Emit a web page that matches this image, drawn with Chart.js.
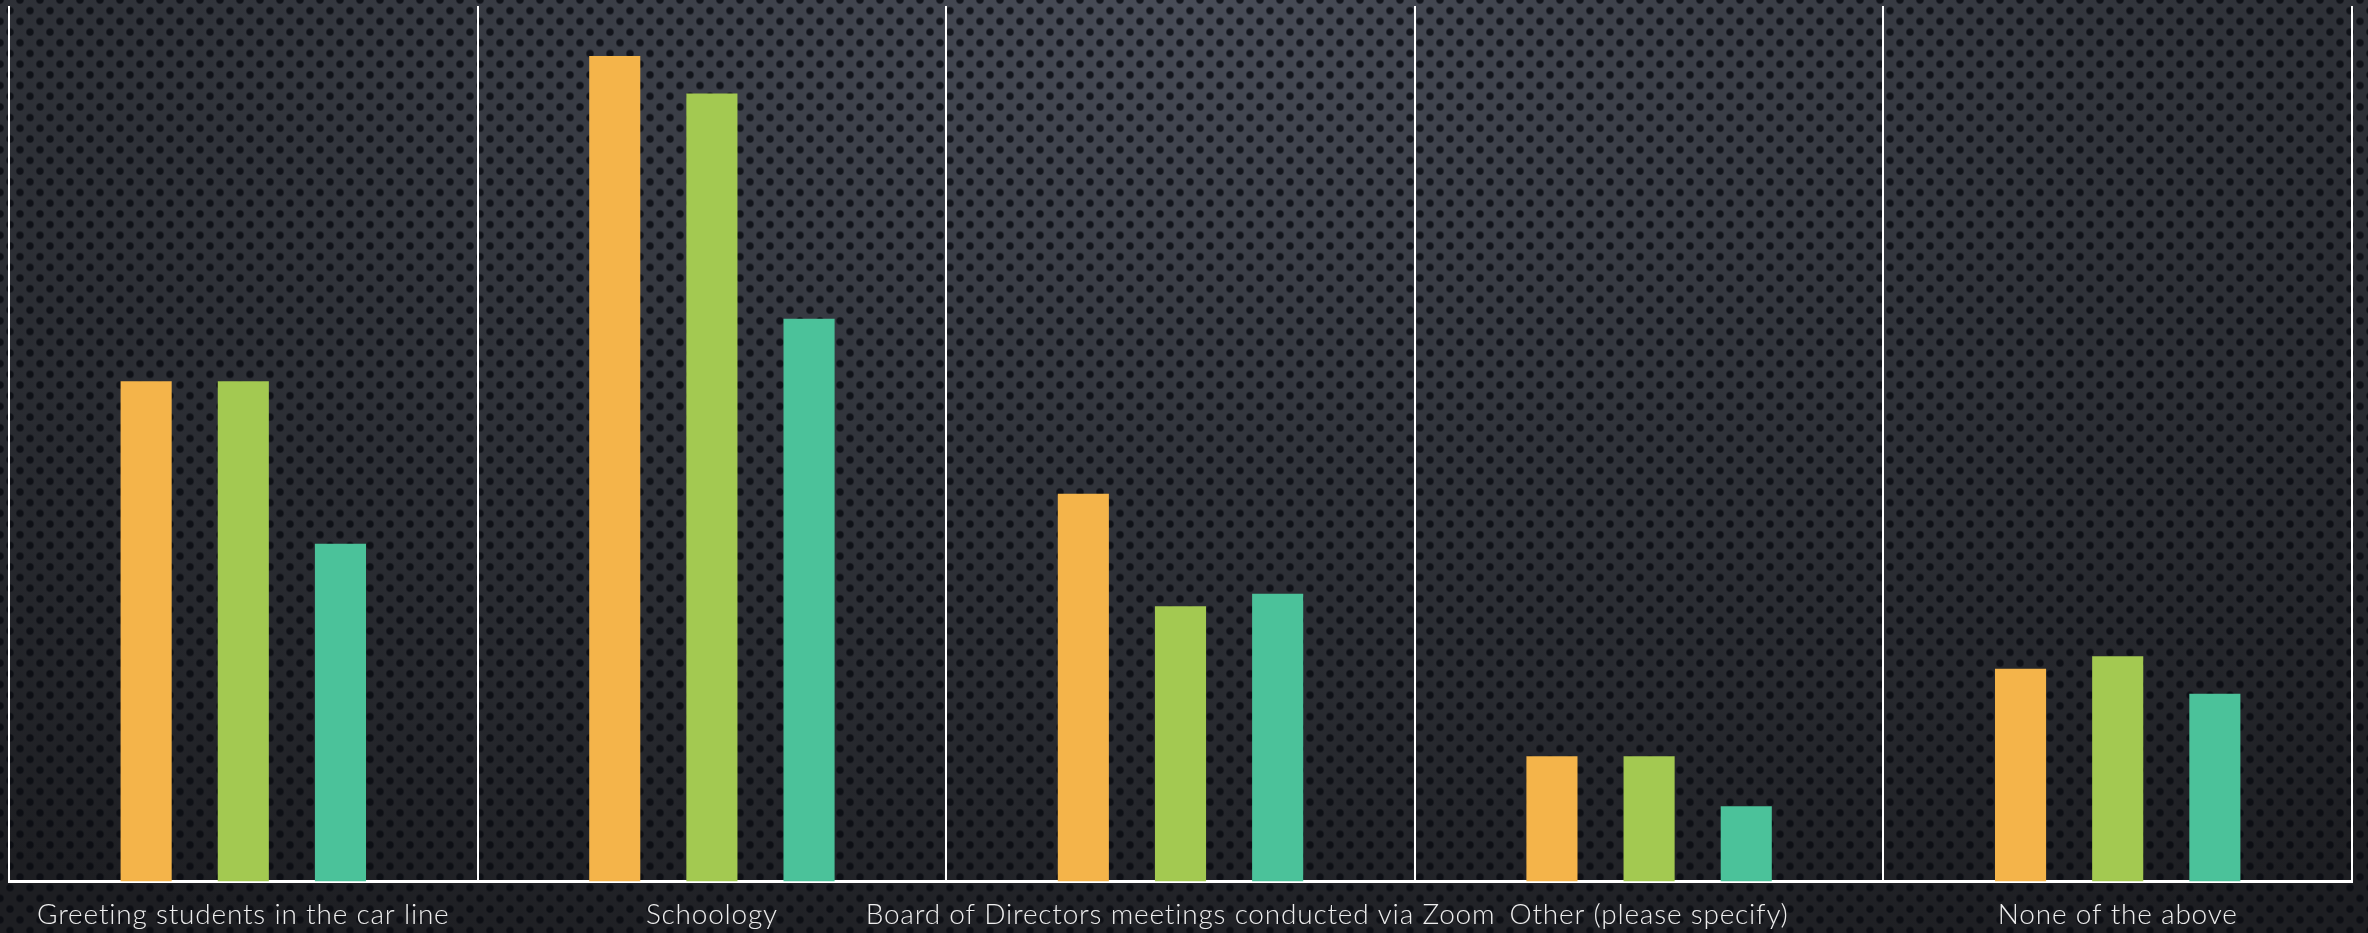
<!DOCTYPE html>
<html>
<head>
<meta charset="utf-8">
<script src="https://cdn.jsdelivr.net/npm/chart.js@4/dist/chart.umd.min.js"></script>
<style>
  html, body { margin: 0; padding: 0; }
  body {
    width: 2368px;
    height: 933px;
    overflow: hidden;
    background-color: #26282e;
    background-image:
      radial-gradient(circle, rgba(8, 10, 16, 0.8) 3px, rgba(8, 10, 16, 0) 4.5px),
      radial-gradient(circle, rgba(8, 10, 16, 0.8) 3px, rgba(8, 10, 16, 0) 4.5px),
      radial-gradient(ellipse 90% 110% at 50% 0%, #484c57 0%, #31343b 45%, #1d1e22 100%);
    background-size: 20px 21.4px, 20px 21.4px, 100% 100%;
    background-position: 0 0, 10px 10.7px, 0 0;
  }
  #wrap { position: relative; width: 2368px; height: 933px; }
</style>
</head>
<body>
<div id="wrap"><canvas id="grafico"></canvas></div>
<script>
// categorias e valores (%)
const categorias = [
  'Greeting students in the car line',
  'Schoology',
  'Board of Directors meetings conducted via Zoom',
  'Other (please specify)',
  'None of the above'
];
const serie1 = [40, 66, 31, 10, 17];
const serie2 = [40, 63, 22, 10, 18];
const serie3 = [27, 45, 23, 6, 15];
const nomesSeries = ['Series 1', 'Series 2', 'Series 3'];
const yMax = 70;

const cores = ['#f4b44a', '#a3c951', '#4bc29a'];

// espaçamento das letras dos rótulos (fonte original é mais larga)
const espacamento = {
  id: 'espacamento',
  beforeDraw(chart) {
    chart.ctx.letterSpacing = '0.8px';
  }
};

const ctx = document.getElementById('grafico').getContext('2d');
new Chart(ctx, {
  type: 'bar',
  data: {
    labels: categorias,
    datasets: [serie1, serie2, serie3].map((valores, i) => ({
      label: nomesSeries[i],
      data: valores,
      backgroundColor: cores[i],
      borderWidth: 0,
      categoryPercentage: 0.622,
      barPercentage: 0.526
    }))
  },
  options: {
    responsive: true,
    maintainAspectRatio: false,
    animation: false,
    layout: { padding: { left: 9, right: 16, top: 6, bottom: -16 } },
    plugins: {
      legend: { display: false },
      tooltip: { enabled: false }
    },
    scales: {
      x: {
        grid: { color: '#ffffff', lineWidth: 2, drawTicks: false, offset: true },
        border: { color: '#ffffff', width: 3 },
        ticks: {
          color: '#eeeeee',
          font: { family: 'Lato', size: 28, weight: '300' },
          padding: 17,
          autoSkip: false,
          maxRotation: 0,
          minRotation: 0
        }
      },
      y: {
        display: false,
        min: 0,
        max: yMax,
        grid: { display: false }
      }
    }
  },
  plugins: [espacamento]
});
</script>
</body>
</html>
